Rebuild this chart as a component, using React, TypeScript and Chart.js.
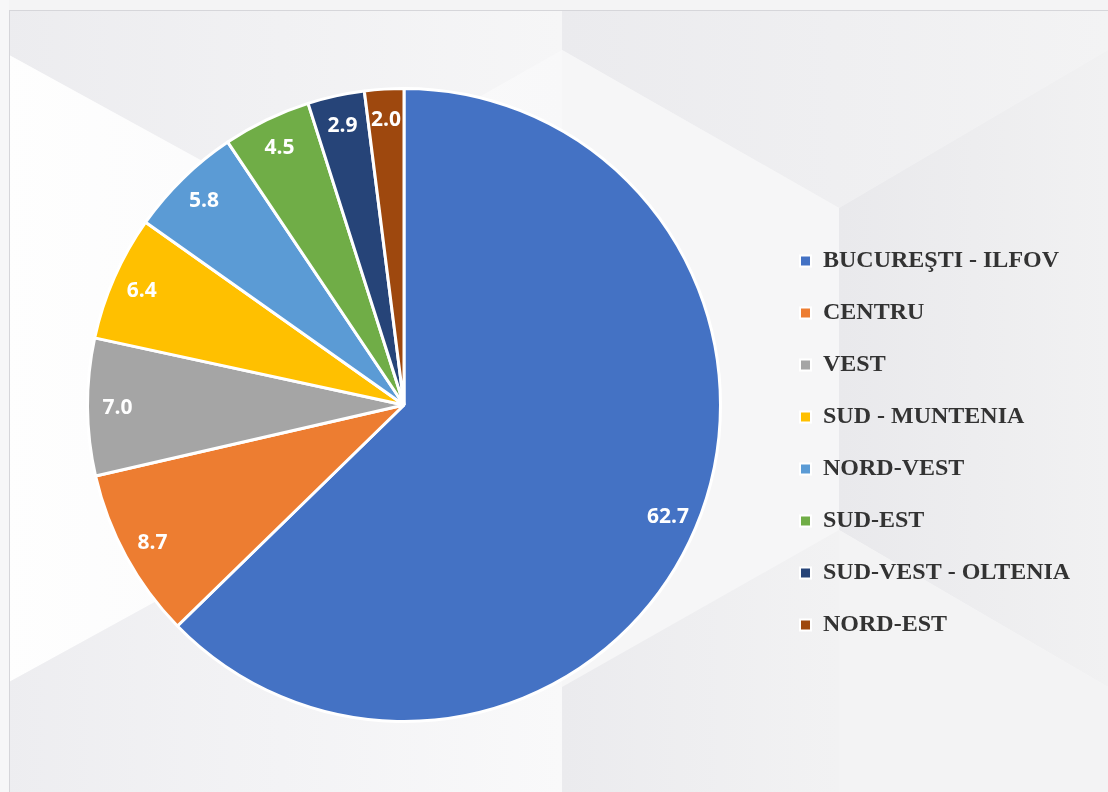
import React, { useEffect, useRef } from 'react';
import { Chart, registerables } from 'chart.js';

Chart.register(...registerables);

// ---- data ----
const regions = [
  'BUCUREŞTI - ILFOV',
  'CENTRU',
  'VEST',
  'SUD - MUNTENIA',
  'NORD-VEST',
  'SUD-EST',
  'SUD-VEST - OLTENIA',
  'NORD-EST',
];
const shares = [62.7, 8.7, 7.0, 6.4, 5.8, 4.5, 2.9, 2.0];
const sliceColors = ['#4472C4', '#ED7D31', '#A5A5A5', '#FFC000', '#5B9BD5', '#70AD47', '#264478', '#9E480E'];

// ---- layout constants ----
const W = 1108;
const H = 792;
const PIE_CX = 404;
const PIE_CY = 405;
const PIE_BOX = 636;
const LEGEND_LEFT = 772;
const LEGEND_TOP = 221;

const placePlugin = {
  id: 'placeElements',
  afterLayout(chart: any) {
    const half = PIE_BOX / 2;
    chart.chartArea = {
      left: PIE_CX - half,
      top: PIE_CY - half,
      right: PIE_CX + half,
      bottom: PIE_CY + half,
      width: PIE_BOX,
      height: PIE_BOX,
    };
    const lg = chart.legend;
    if (lg) {
      const w = lg.width;
      lg.left = LEGEND_LEFT;
      lg.right = LEGEND_LEFT + w;
      lg.top = LEGEND_TOP;
      lg.bottom = H;
      lg.height = H - LEGEND_TOP;
    }
  },
};

const valueLabelPlugin = {
  id: 'valueLabels',
  afterDatasetsDraw(chart: any) {
    const ctx = chart.ctx;
    const meta = chart.getDatasetMeta(0);
    ctx.save();
    ctx.fillStyle = '#ffffff';
    ctx.font = 'bold 21px "Open Sans"';
    ctx.textAlign = 'center';
    ctx.textBaseline = 'middle';
    meta.data.forEach((arc: any, i: number) => {
      const p = arc.getProps(['x', 'y', 'startAngle', 'endAngle', 'outerRadius'], true);
      const mid = (p.startAngle + p.endAngle) / 2;
      const r = p.outerRadius * 0.905;
      ctx.fillText(shares[i].toFixed(1), p.x + Math.cos(mid) * r, p.y + Math.sin(mid) * r + 1);
    });
    ctx.restore();
  },
};

function Background() {
  return (
    <svg width={W} height={H} style={{ position: 'absolute', left: 0, top: 0 }}>
      <defs>
        <linearGradient id="gTopL" x1="0" x2="1" y1="0" y2="0">
          <stop offset="0" stopColor="#ececef" />
          <stop offset="1" stopColor="#f6f6f7" />
        </linearGradient>
        <linearGradient id="gMidL" x1="0" x2="1" y1="0" y2="0">
          <stop offset="0" stopColor="#fefefe" />
          <stop offset="1" stopColor="#f8f8f9" />
        </linearGradient>
        <linearGradient id="gBotL" x1="0" x2="1" y1="0" y2="0">
          <stop offset="0" stopColor="#ededf0" />
          <stop offset="1" stopColor="#f9f9fa" />
        </linearGradient>
        <linearGradient id="gTopR" x1="0" x2="1" y1="0" y2="0">
          <stop offset="0" stopColor="#ebebee" />
          <stop offset="1" stopColor="#f3f3f4" />
        </linearGradient>
        <linearGradient id="gMidR" x1="0" x2="1" y1="0" y2="0">
          <stop offset="0" stopColor="#e9e9ec" />
          <stop offset="1" stopColor="#f1f1f2" />
        </linearGradient>
        <linearGradient id="gBotR" x1="0" x2="1" y1="0" y2="0">
          <stop offset="0" stopColor="#ebebee" />
          <stop offset="1" stopColor="#f2f2f3" />
        </linearGradient>
      </defs>
      <rect x={0} y={0} width={W} height={H} fill="#f6f6f7" />
      <polygon points="0,0 562,0 562,50 286,207 0,50" fill="url(#gTopL)" />
      <polygon points="0,50 286,207 562,50 562,687 286,530 0,687" fill="url(#gMidL)" />
      <polygon points="0,687 286,530 562,687 562,792 0,792" fill="url(#gBotL)" />
      <polygon points="562,0 1108,0 1108,50 839,208 562,50" fill="url(#gTopR)" />
      <polygon points="562,50 839,208 839,530 562,687" fill="#f6f6f7" />
      <polygon points="839,208 1108,50 1108,687 839,530" fill="url(#gMidR)" />
      <polygon points="562,687 839,530 839,792 562,792" fill="url(#gBotR)" />
      <polygon points="839,530 1108,687 1108,792 839,792" fill="#f3f3f4" />
      <rect x={0} y={0} width={W} height={10} fill="#f4f4f5" />
      <rect x={0} y={0} width={9} height={H} fill="#f7f7f8" />
      <line x1={9.5} y1={10} x2={9.5} y2={H} stroke="#d6d6da" strokeWidth={1} />
      <line x1={9} y1={10.5} x2={W} y2={10.5} stroke="#d6d6da" strokeWidth={1} />
    </svg>
  );
}

export default function App() {
  const canvasRef = useRef<HTMLCanvasElement | null>(null);

  useEffect(() => {
    const canvas = canvasRef.current;
    if (!canvas) return;
    const chart = new Chart(canvas, {
      type: 'pie',
      data: {
        labels: regions,
        datasets: [
          {
            data: shares,
            backgroundColor: sliceColors,
            borderColor: '#ffffff',
            borderWidth: 3,
          },
        ],
      },
      options: {
        responsive: false,
        animation: false,
        layout: { padding: 0 },
        plugins: {
          tooltip: { enabled: false },
          legend: {
            display: true,
            position: 'right',
            align: 'start',
            labels: {
              boxWidth: 11,
              boxHeight: 11,
              padding: 28,
              color: '#333333',
              font: { family: '"Liberation Serif"', size: 24, weight: 'bold' },
              generateLabels: (c: any) =>
                (Chart as any).overrides.pie.plugins.legend.labels
                  .generateLabels(c)
                  .map((l: any) => ({ ...l, lineWidth: 2, strokeStyle: '#ffffff' })),
            },
          },
        },
      },
      plugins: [placePlugin, valueLabelPlugin],
    });
    return () => chart.destroy();
  }, []);

  return (
    <div style={{ position: 'fixed', left: 0, top: 0, width: W, height: H, overflow: 'hidden' }}>
      <Background />
      <canvas
        ref={canvasRef}
        width={W}
        height={H}
        style={{ position: 'absolute', left: 0, top: 0, width: W, height: H }}
      />
    </div>
  );
}
